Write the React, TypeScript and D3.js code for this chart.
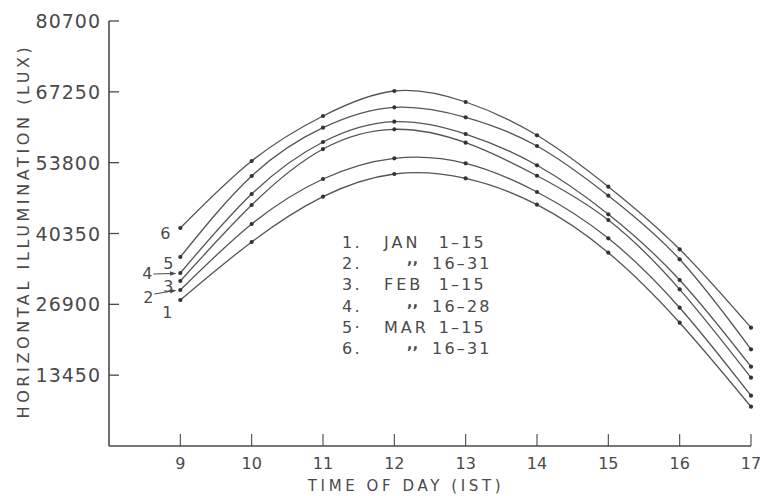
import React from 'react';
import * as d3 from 'd3';

const hours = [9, 10, 11, 12, 13, 14, 15, 16, 17];
const yTicks = [13450, 26900, 40350, 53800, 67250, 80700];
const jan1 = [27720, 38740, 47340, 51650, 50830, 45820, 36700, 23410, 7460];
const jan2 = [29620, 42150, 50700, 54630, 53680, 48230, 39440, 26260, 9550];
const feb1 = [31330, 45760, 56390, 60140, 57590, 51320, 42910, 29750, 12970];
const feb2 = [32850, 47850, 57720, 61580, 59240, 53300, 44000, 31520, 15060];
const mar1 = [35890, 51270, 60440, 64310, 62410, 56960, 47530, 35450, 18360];
const mar2 = [41390, 54120, 62660, 67410, 65320, 59000, 49240, 37350, 22460];
const seriesList = [jan1, jan2, feb1, feb2, mar1, mar2];
const seriesIds = ['1', '2', '3', '4', '5', '6'];
const legendNums = ['1.', '2.', '3.', '4.', '5·', '6.'];
const legendMonths = ['JAN', ',,', 'FEB', ',,', 'MAR', ',,'];
const legendRanges = ['1–15', '16–31', '1–15', '16–28', '1–15', '16–31'];

const W = 760;
const H = 496;
const INK = '#4a4a4a';
const FONT = '"DejaVu Sans", "Liberation Sans", sans-serif';

export default function App() {
  const x = d3.scaleLinear().domain([8, 17]).range([109, 751]);
  const y = d3.scaleLinear().domain([0, 80700]).range([446, 21]);
  const line = d3
    .line<number>()
    .x((_, i) => x(hours[i]))
    .y((d) => y(d))
    .curve(d3.curveNatural);

  // annotation placement relative to each series' first point
  const labelOffsets = [
    { dx: -13, base: 18, arrow: false, ay: 0 },
    { dx: -32, base: 13, arrow: true, ay: 4 },
    { dx: -12, base: 11, arrow: false, ay: 0 },
    { dx: -33, base: 6, arrow: true, ay: 1 },
    { dx: -12, base: 12, arrow: false, ay: 0 },
    { dx: -15, base: 11, arrow: false, ay: 0 },
  ];

  const x0 = x(hours[0]);

  return (
    <svg
      width={W}
      height={H}
      viewBox={`0 0 ${W} ${H}`}
      style={{ position: 'absolute', left: 0, top: 0, background: '#fff' }}
    >
      <defs>
        <marker id="arr" viewBox="0 0 8 8" refX="7" refY="4" markerWidth="6" markerHeight="6" orient="auto">
          <path d="M0,1 L8,4 L0,7 z" fill={INK} />
        </marker>
      </defs>
      <rect width={W} height={H} fill="#fff" />

      {/* axes */}
      <g stroke={INK} strokeWidth={1.6} fill="none">
        <line x1={x(8)} y1={y(0)} x2={x(8)} y2={y(80700)} />
        <line x1={x(8)} y1={y(0)} x2={x(17)} y2={y(0)} />
        {yTicks.map((t) => (
          <line key={t} x1={x(8)} x2={x(8) + 10} y1={y(t)} y2={y(t)} strokeWidth={1.3} />
        ))}
        {hours.map((h) => (
          <line key={h} x1={x(h)} x2={x(h)} y1={y(0)} y2={y(0) - 12} strokeWidth={1.1} />
        ))}
      </g>

      {/* y tick labels */}
      <g fill={INK} fontFamily={FONT} fontSize={19} textAnchor="end" letterSpacing={1}>
        {yTicks.map((t) => (
          <text key={t} x={x(8) - 8} y={y(t) + 7}>
            {t}
          </text>
        ))}
      </g>

      {/* x tick labels */}
      <g fill={INK} fontFamily={FONT} fontSize={16} textAnchor="middle">
        {hours.map((h) => (
          <text key={h} x={x(h)} y={y(0) + 23}>
            {h}
          </text>
        ))}
      </g>

      {/* axis titles */}
      <text
        x={406}
        y={491}
        fill={INK}
        fontFamily={FONT}
        fontSize={15}
        letterSpacing={3.6}
        textAnchor="middle"
      >
        TIME OF DAY (IST)
      </text>
      <text
        transform={`translate(29, 231) rotate(-90)`}
        fill={INK}
        fontFamily={FONT}
        fontSize={16}
        letterSpacing={3.6}
        textAnchor="middle"
      >
        HORIZONTAL ILLUMINATION (LUX)
      </text>

      {/* curves */}
      <g fill="none" stroke="#555" strokeWidth={1.3}>
        {seriesList.map((s, i) => (
          <path key={i} d={line(s) || ''} />
        ))}
      </g>
      <g fill="#333">
        {seriesList.map((s, i) =>
          s.map((v, j) => <circle key={`${i}-${j}`} cx={x(hours[j])} cy={y(v)} r={2.1} />)
        )}
      </g>

      {/* series number labels near 9 h */}
      <g fill={INK} fontFamily={FONT} fontSize={16} textAnchor="middle">
        {seriesList.map((s, i) => {
          const o = labelOffsets[i];
          const py = y(s[0]);
          return (
            <g key={i}>
              <text x={x0 + o.dx} y={py + o.base}>
                {seriesIds[i]}
              </text>
              {o.arrow && (
                <line
                  x1={x0 + o.dx + 6}
                  y1={py + o.ay}
                  x2={x0 - 5}
                  y2={py + 0.5}
                  stroke={INK}
                  strokeWidth={1}
                  markerEnd="url(#arr)"
                />
              )}
            </g>
          );
        })}
      </g>

      {/* legend */}
      <g fill={INK} fontFamily={FONT} fontSize={16} letterSpacing={2.2}>
        {legendNums.map((n, i) => {
          const ly = 248 + i * 21.2;
          const isDitto = legendMonths[i] === ',,';
          return (
            <g key={i}>
              <text x={342} y={ly}>
                {n}
              </text>
              {isDitto ? (
                <text x={407} y={ly - 5} fontSize={14} fontWeight="bold" letterSpacing={0.5}>
                  {legendMonths[i]}
                </text>
              ) : (
                <text x={384} y={ly} letterSpacing={3}>
                  {legendMonths[i]}
                </text>
              )}
              <text x={isDitto ? 432 : 486} y={ly} textAnchor={isDitto ? 'start' : 'end'}>
                {legendRanges[i]}
              </text>
            </g>
          );
        })}
      </g>
    </svg>
  );
}
